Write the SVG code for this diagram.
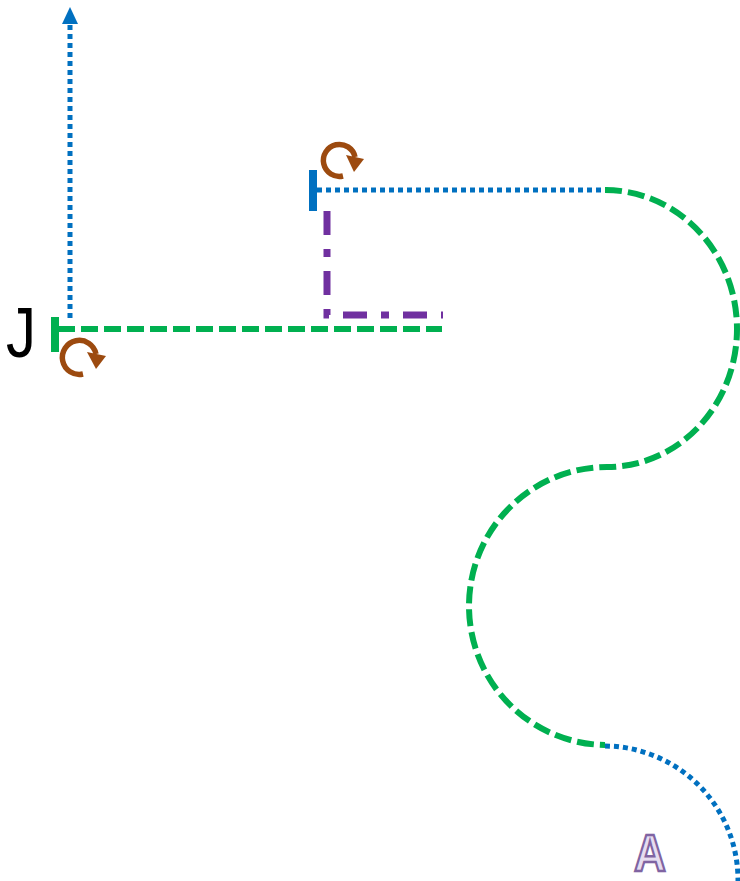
<svg xmlns="http://www.w3.org/2000/svg" width="740" height="881" viewBox="0 0 740 881">
<style>
.blue{fill:none;stroke:#0070C0;stroke-width:5;stroke-dasharray:5 4}
.green{fill:none;stroke:#00B050;stroke-width:6;stroke-dasharray:17 6}
.purple{fill:none;stroke:#7030A0;stroke-width:7;stroke-dasharray:24 14 8 14}
.rot{fill:none;stroke:#9C4A0F;stroke-width:5.5}
.rothead{fill:#9C4A0F}
.bar{stroke-width:8}
</style>
<rect width="740" height="881" fill="#fff"/>
<g id="connectors">
<path class="blue" d="M70,318 L70,22"/>
<path d="M62,24 L70,7 L78,24 Z" fill="#0070C0"/>
<path class="green" d="M58,329 L442,329"/>
<path class="blue" d="M317,190 L608,190"/>
<path class="purple" d="M327,211 L327,315 L443,315"/>
<path class="green" d="M605,190 A132,139 0 0 1 737,329 A130,138 0 0 1 607,467 A138,139 0 0 0 469,606 A138,139 0 0 0 605,745"/>
<path class="blue" d="M605,746 A134,134 0 0 1 738,881"/>
</g>
<g id="node-J">
<line x1="55" y1="317" x2="55" y2="352" stroke="#00B050" class="bar"/>
<text x="6" y="357" font-family="Liberation Sans, sans-serif" font-size="70" fill="#000" textLength="30" lengthAdjust="spacingAndGlyphs">J</text>
<path class="rot" d="M83,374 A17,17 0 1 1 96,354"/>
<path class="rothead" d="M87,352 L106,356 L96,369 Z"/>
</g>
<g id="node-top">
<line x1="313" y1="170" x2="313" y2="211" stroke="#0070C0" class="bar"/>
<path class="rot" d="M343,176 A16,16 0 1 1 355,157"/>
<path class="rothead" d="M346,155 L364,159 L354,172 Z"/>
</g>
<g id="node-A">
<text x="650" y="871" text-anchor="middle" font-family="Liberation Sans, sans-serif" font-weight="bold" font-size="52" fill="#E6DDF0" stroke="#8064A2" stroke-width="2.5" transform="translate(650,0) scale(0.85,1) translate(-650,0)">A</text>
</g>
</svg>
